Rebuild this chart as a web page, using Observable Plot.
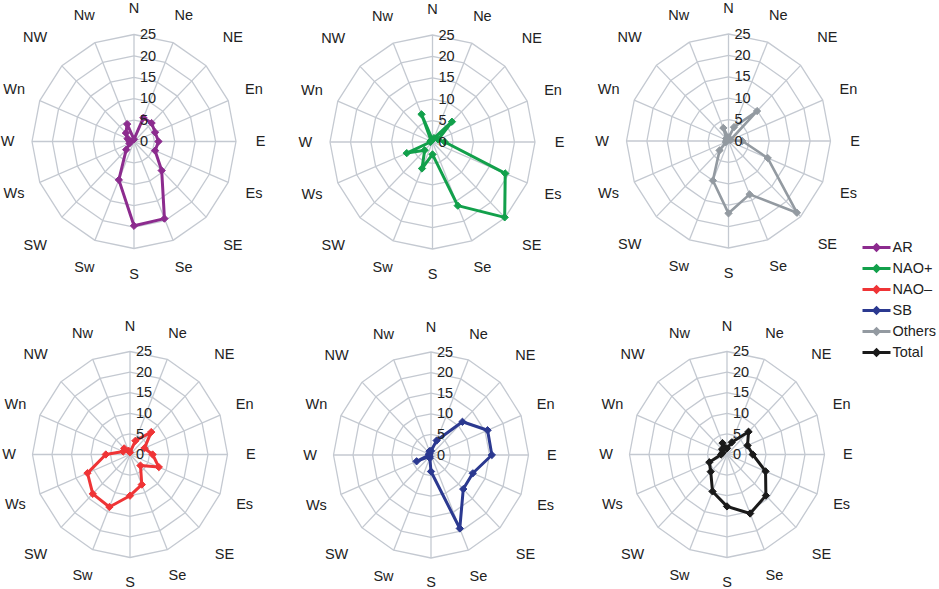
<!DOCTYPE html>
<html><head><meta charset="utf-8">
<script src="https://cdn.jsdelivr.net/npm/d3@7"></script>
<script src="https://cdn.jsdelivr.net/npm/@observablehq/plot@0.6"></script>
<style>
body{margin:0;background:#fff;font-family:"Liberation Sans",Arial,sans-serif}
#chart{position:relative;width:939px;height:589px;overflow:hidden}
#chart svg{position:absolute;left:0;top:0}
</style></head><body><div id="chart"></div>
<script>
// 16 wind-direction sectors, clockwise from North
const directions = ["N","Ne","NE","En","E","Es","SE","Se","S","Sw","SW","Ws","W","Wn","NW","Nw"];
const ringValues = [5, 10, 15, 20, 25];
const tickLabels = ["0", "5", "10", "15", "20", "25"];
const seriesNames = ["AR", "NAO+", "NAO–", "SB", "Others", "Total"];
const seriesColors = ["#8c2b8e", "#12a04b", "#ef3436", "#2b3990", "#939aa1", "#1a1a1a"];

// Frequencies (%) per direction
const AR     = [0.5, 6.0, 6.1, 5.6, 6.0, 5.6, 9.6, 19.5, 19.7, 9.7, 2.7, 1.2, 1.0, 1.7, 2.8, 4.4];
const NAOpos = [0.5, 1.0, 6.7, 1.5, 3.0, 19.2, 24.9, 16.1, 2.9, 6.7, 2.7, 6.8, 0.5, 0.5, 0.5, 7.0];
const NAOneg = [0.5, 3.6, 7.7, 4.0, 5.8, 8.0, 3.8, 7.9, 10.0, 13.8, 13.5, 11.8, 6.2, 1.9, 2.1, 1.0];
const SB     = [1.0, 3.8, 11.4, 15.7, 15.6, 11.6, 11.7, 19.3, 4.0, 0.8, 0.5, 4.0, 0.5, 0.5, 0.5, 1.0];
const Others = [0.8, 3.5, 9.9, 0.5, 3.4, 10.4, 23.7, 13.5, 16.9, 10.0, 3.1, 0.7, 0.5, 0.5, 0.8, 3.3];
const Total  = [1.5, 3.2, 7.8, 5.7, 6.6, 10.7, 14.1, 15.5, 12.6, 9.7, 5.9, 4.9, 1.5, 1.2, 1.8, 3.0];
const seriesValues = [AR, NAOpos, NAOneg, SB, Others, Total];
// which panel each series is drawn in (row-major 3 x 2 grid)
const seriesPanel = [0, 1, 3, 4, 2, 5];

// panel layout: centre and outer-ring radii in pixels
const layout = [
  {cx: 133.5, cy: 141,   rx: 102,  ry: 107},
  {cx: 432,   cy: 141.5, rx: 102.5,ry: 107},
  {cx: 728,   cy: 140.5, rx: 102,  ry: 107},
  {cx: 129.5, cy: 454,   rx: 97.5, ry: 103},
  {cx: 430.5, cy: 454.5, rx: 97.5, ry: 103},
  {cx: 726.5, cy: 454,   rx: 97.5, ry: 103}
];

const gridColor = "#c4c9d1";
const textColor = "#222";
const font = "Liberation Sans, Arial, sans-serif";
const ang = i => i * 2 * Math.PI / directions.length;
const maxV = 25;

const rings = ringValues.flatMap(r => directions.map((d, i) => ({ring: r, x: r * Math.sin(ang(i)), y: r * Math.cos(ang(i))})));
const spokes = directions.map((d, i) => ({x: maxV * Math.sin(ang(i)), y: maxV * Math.cos(ang(i))}));
const dirLabels = directions.map((d, i) => {
  const a = ang(i);
  const rl = maxV * (1.24 + 0.13 * Math.pow(Math.sin(2 * a), 4));
  return {d, x: rl * Math.sin(a), y: rl * Math.cos(a)};
});
const ticks = tickLabels.map(t => ({t, v: +t}));

const chart = document.getElementById("chart");

seriesValues.forEach((vals, k) => {
  const L = layout[seriesPanel[k]];
  const color = seriesColors[k];
  const pts = vals.map((v, i) => ({d: directions[i], x: v * Math.sin(ang(i)), y: v * Math.cos(ang(i))}));
  const svg = Plot.plot({
    width: 939, height: 589, margin: 0,
    style: {background: "transparent", fontFamily: font, overflow: "visible"},
    x: {domain: [-maxV, maxV], range: [L.cx - L.rx, L.cx + L.rx], axis: null},
    y: {domain: [-maxV, maxV], range: [L.cy + L.ry, L.cy - L.ry], axis: null},
    marks: [
      Plot.line(rings, {x: "x", y: "y", z: "ring", curve: "linear-closed", stroke: gridColor, strokeWidth: 1.3}),
      Plot.link(spokes, {x1: 0, y1: 0, x2: "x", y2: "y", stroke: gridColor, strokeWidth: 1.3}),
      Plot.line(pts, {x: "x", y: "y", curve: "linear-closed", stroke: color, strokeWidth: k === 4 ? 2.6 : 3, strokeLinejoin: "round"}),
      Plot.dot(pts, {x: "x", y: "y", symbol: "diamond2", r: 3.3, fill: color, stroke: color, strokeWidth: 1}),
      Plot.text(ticks, {x: 0, y: "v", text: "t", dx: 6, textAnchor: "start", fontSize: 14.5, fill: textColor}),
      Plot.text(dirLabels, {x: "x", y: "y", text: "d", fontSize: 14.5, fill: textColor})
    ]
  });
  chart.appendChild(svg);
});

// legend
const legendData = seriesNames.map((s, i) => ({s}));
const legend = Plot.plot({
  width: 939, height: 589, margin: 0,
  style: {background: "transparent", fontFamily: font, overflow: "visible"},
  x: {domain: [0, 1], range: [862, 890], axis: null},
  y: {type: "point", domain: seriesNames, range: [245, 353.3], padding: 0, axis: null},
  color: {domain: seriesNames, range: seriesColors},
  marks: [
    Plot.link(legendData, {x1: 0, x2: 1, y1: "s", y2: "s", stroke: "s", strokeWidth: 3}),
    Plot.dot(legendData, {x: 0.5, y: "s", symbol: "diamond2", r: 3.3, fill: "s", stroke: "s"}),
    Plot.text(legendData, {x: 1, y: "s", text: "s", dx: 2, textAnchor: "start", fontSize: 14.5, fill: textColor})
  ]
});
chart.appendChild(legend);
</script>
</body></html>
